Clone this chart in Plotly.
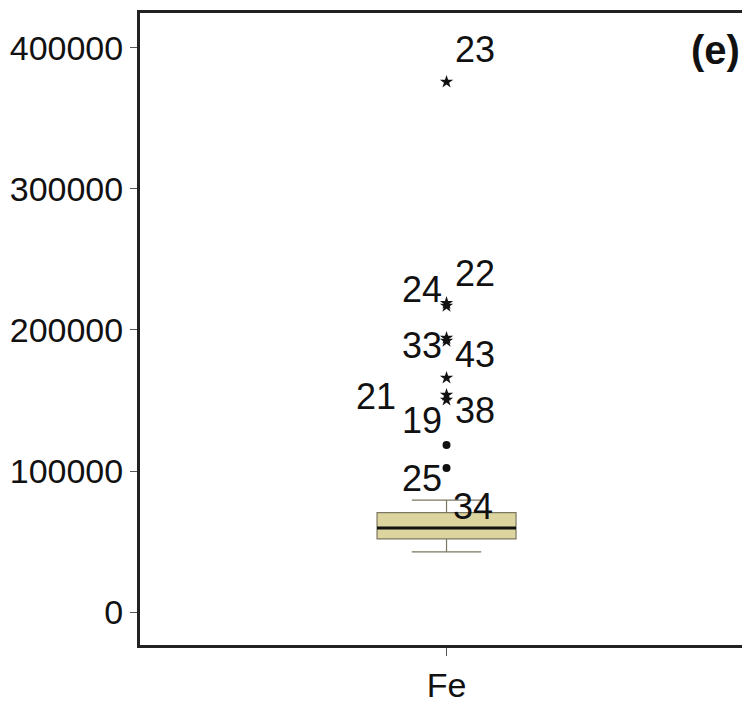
import plotly.graph_objects as go

# box summary for Fe
category = "Fe"
lower_fence = [42600]
q1 = [51800]
median = [59600]
q3 = [70500]
upper_fence = [79400]

# extreme values (stars) and outliers (circles) with their case numbers
extreme_values = [375900, 219100, 217000, 194300, 192200, 166000, 153900, 150400]
extreme_cases = ["23", "22", "24", "33", "43", "21", "38", "19"]
outlier_values = [118400, 102100]
outlier_cases = ["34", "25"]

y_ticks = [0, 100000, 200000, 300000, 400000]

# pixel offsets for the case labels, so they sit like in the original
label_shift = {
    "23": (28, 32), "22": (28, 30), "24": (-25, 17), "33": (-25, -7),
    "43": (28, -14), "21": (-71, -19), "38": (28, -16), "19": (-25, -21),
    "25": (-25, -10), "34": (26, -61),
}

box_width = 0.4535
font = "Liberation Sans, Arial, sans-serif"

fig = go.Figure()
fig.add_trace(go.Box(
    x=[0],
    q1=q1, median=median, q3=q3,
    lowerfence=lower_fence, upperfence=upper_fence,
    width=box_width,
    whiskerwidth=0.5,
    fillcolor="#ddd59f",
    line=dict(color="#7d7862", width=1.2),
    boxpoints=False,
    showlegend=False,
    hoverinfo="skip",
))
# thicker median line like the SPSS style
fig.add_trace(go.Scatter(
    x=[-box_width / 2, box_width / 2],
    y=[median[0], median[0]],
    mode="lines",
    line=dict(color="#111111", width=3),
    showlegend=False,
    hoverinfo="skip",
))
fig.add_trace(go.Scatter(
    x=[0] * len(extreme_values),
    y=extreme_values,
    mode="markers",
    marker=dict(symbol="star", size=10, color="#111111"),
    showlegend=False,
))
fig.add_trace(go.Scatter(
    x=[0] * len(outlier_values),
    y=outlier_values,
    mode="markers",
    marker=dict(symbol="circle", size=8, color="#111111"),
    showlegend=False,
))

for value, case in zip(extreme_values + outlier_values, extreme_cases + outlier_cases):
    dx, dy = label_shift[case]
    fig.add_annotation(
        x=0, y=value, text=case, showarrow=False,
        xshift=dx, yshift=dy,
        font=dict(family=font, size=36, color="#111111"),
    )

fig.add_annotation(
    x=0.944, y=0.941, xref="paper", yref="paper",
    xanchor="center", yanchor="middle",
    text="<b>(e)</b>", showarrow=False,
    font=dict(family=font, size=40, color="#111111"),
)

# the page body keeps an 8px margin, so the figure is a bit smaller than the window
fig.update_layout(
    width=742, height=696,
    margin=dict(l=132, r=0, t=5, b=59),
    paper_bgcolor="white",
    plot_bgcolor="white",
    font=dict(family=font, color="#111111"),
)
fig.update_xaxes(
    range=[-1.0, 0.99],
    tickvals=[0], ticktext=[category],
    ticks="outside", ticklen=8, tickcolor="#555555",
    tickfont=dict(size=34),
    showline=True, linecolor="#222222", linewidth=3, mirror=True,
    showgrid=False, zeroline=False,
)
fig.update_yaxes(
    range=[-23400, 424800],
    tickvals=y_ticks, tickformat="d",
    ticks="outside", ticklen=7, tickcolor="#555555",
    tickfont=dict(size=34),
    showline=True, linecolor="#222222", linewidth=3,
    showgrid=False, zeroline=False,
)

fig.write_html("out.html")
